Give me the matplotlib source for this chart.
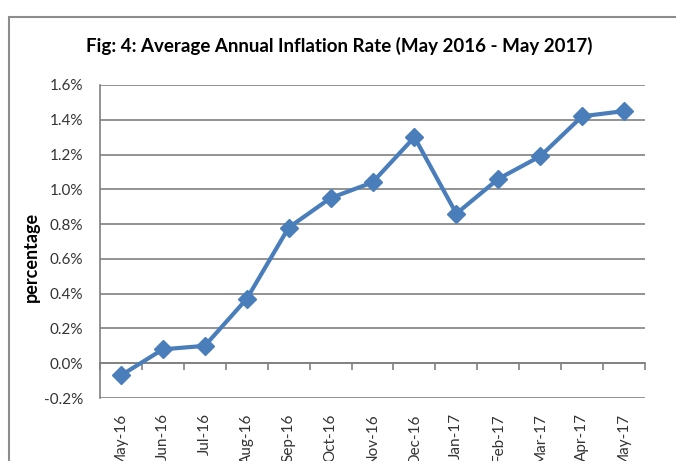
import matplotlib
matplotlib.use("Agg")
import matplotlib.pyplot as plt
from matplotlib.patches import Rectangle
from matplotlib.ticker import FuncFormatter

months = ["May-16", "Jun-16", "Jul-16", "Aug-16", "Sep-16", "Oct-16", "Nov-16",
          "Dec-16", "Jan-17", "Feb-17", "Mar-17", "Apr-17", "May-17"]
inflation = [-0.07, 0.08, 0.10, 0.37, 0.78, 0.95, 1.04, 1.30, 0.86, 1.06, 1.19, 1.42, 1.45]
yticks = [-0.2, 0.0, 0.2, 0.4, 0.6, 0.8, 1.0, 1.2, 1.4, 1.6]

plt.rcParams['font.family'] = ['Lato', 'DejaVu Sans']

fig = plt.figure(figsize=(6.76, 4.61), dpi=100)
W, H = 676, 461
fig.patches.append(Rectangle((9 / W, -0.1), 1.2, (H - 17) / H + 0.1,
                             transform=fig.transFigure, fill=False,
                             edgecolor="#8c8c8c", linewidth=1.5))

ax = fig.add_axes([100 / W, 1 - 398 / H, 545 / W, 313 / H])
x = list(range(len(months)))
ax.plot(x, inflation, color="#4A7EBB", linewidth=3, marker="D",
        markersize=9, markerfacecolor="#4A7EBB", markeredgecolor="#4A7EBB", zorder=3)

ax.set_xlim(-0.5, len(months) - 0.5)
ax.set_ylim(-0.2, 1.6)
ax.set_yticks(yticks)
ax.yaxis.set_major_formatter(FuncFormatter(lambda v, p: f"{v:.1f}%"))
ax.grid(axis="y", color="#808080", linewidth=1.2)
ax.set_axisbelow(True)

for s in ["top", "right", "bottom"]:
    ax.spines[s].set_visible(False)
ax.spines["left"].set_color("#808080")
ax.spines["left"].set_linewidth(1.2)

ax.set_xticks(x)
ax.set_xticklabels(months, rotation=90, fontsize=11, color="#333333")
ax.tick_params(axis="x", length=0, pad=11)
ax.tick_params(axis="y", length=0, pad=12, labelsize=11, labelcolor="#333333")

# x axis line with tick marks at category boundaries, crossing at 0
sec = ax.secondary_xaxis(0.2 / 1.8)
sec.set_xticks([i + 0.5 for i in range(-1, len(months))])
sec.set_xticklabels([])
sec.tick_params(axis="x", length=5, width=1.2, color="#808080", direction="out")
sec.spines["bottom"].set_color("#808080")
sec.spines["bottom"].set_linewidth(1.2)

ax.set_ylabel("percentage", fontsize=13, fontweight="bold")
ax.yaxis.set_label_coords(-0.11, 0.45)

fig.text(339 / W, 1 - 46 / H, "Fig: 4: Average Annual Inflation Rate (May 2016 - May 2017)",
         ha="center", va="center", fontsize=13.5, fontweight="bold")

fig.savefig("out.png", dpi=100)
